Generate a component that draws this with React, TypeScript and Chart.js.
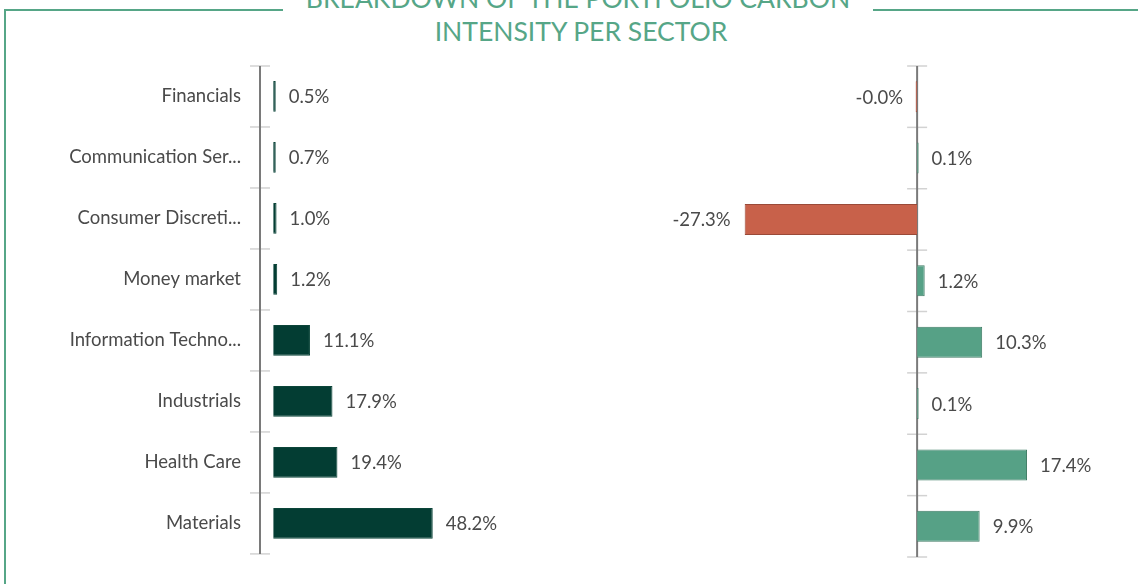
import React, { useEffect, useRef } from "react";
import { Chart, registerables } from "chart.js";

Chart.register(...registerables);

const categories: string[] = [
  "Financials",
  "Communication Ser...",
  "Consumer Discreti...",
  "Money market",
  "Information Techno...",
  "Industrials",
  "Health Care",
  "Materials",
];
const leftValues: number[] = [0.5, 0.7, 1.0, 1.2, 11.1, 17.9, 19.4, 48.2];
const rightValues: number[] = [-0.02, 0.1, -27.3, 1.2, 10.3, 0.1, 17.4, 9.9];
const titleLines: string[] = ["BREAKDOWN OF THE PORTFOLIO CARBON", "INTENSITY PER SECTOR"];

const DARK = "#033d33";
const DARK_BORDER = "#0c4539";
const POS = "#56a186";
const POS_BORDER = "#3e7b64";
const NEG = "#c8614a";
const NEG_BORDER = "#9a4a38";
const TITLE_COLOR = "#56a687";
const TEXT = "#4a4a4a";
const FONT_SIZE = 18.5;

const fmt = (v: number) => v.toFixed(1) + "%";

const axisX = (chart: any, opts: any) =>
  opts.mode === "zero" ? chart.scales.x.getPixelForValue(0) : chart.chartArea.left;

const decorPlugin = {
  id: "decor",
  beforeDatasetsDraw(chart: any, _args: any, opts: any) {
    const ctx = chart.ctx;
    const ys = chart.scales.y;
    const ax = axisX(chart, opts);
    const top = ys.top;
    const bottom = ys.bottom;
    const n = chart.data.labels.length;
    ctx.save();
    ctx.strokeStyle = "#d2d2d2";
    ctx.lineWidth = 1.5;
    for (let i = 0; i <= n; i++) {
      const y = top + (i * (bottom - top)) / n;
      ctx.beginPath();
      ctx.moveTo(ax - 10, y);
      ctx.lineTo(ax + 10, y);
      ctx.stroke();
    }
    ctx.strokeStyle = "#7a7a7a";
    ctx.lineWidth = 2;
    ctx.beginPath();
    ctx.moveTo(ax, top);
    ctx.lineTo(ax, bottom);
    ctx.stroke();
    ctx.restore();
  },
  afterDatasetsDraw(chart: any, _args: any, opts: any) {
    const ctx = chart.ctx;
    const ax = axisX(chart, opts);
    ctx.save();
    ctx.font = `${FONT_SIZE}px Lato`;
    ctx.fillStyle = TEXT;
    ctx.textBaseline = "middle";
    const meta = chart.getDatasetMeta(0);
    const data = chart.data.datasets[0].data as number[];
    meta.data.forEach((el: any, i: number) => {
      const v = data[i];
      if (v < 0) {
        const endX = Math.abs(v) < 0.5 ? ax : el.x;
        ctx.textAlign = "right";
        ctx.fillText(fmt(v), endX - 14, el.y + 1);
      } else {
        ctx.textAlign = "left";
        ctx.fillText(fmt(v), el.x + 13, el.y + 1);
      }
    });
    ctx.restore();
  },
};

export default function App() {
  const leftRef = useRef<HTMLCanvasElement>(null);
  const rightRef = useRef<HTMLCanvasElement>(null);

  useEffect(() => {
    let charts: Chart[] = [];
    let cancelled = false;
    const build = () => {
      if (cancelled || !leftRef.current || !rightRef.current) return;
      const left = new Chart(leftRef.current, {
        type: "bar",
        data: {
          labels: categories,
          datasets: [
            {
              data: leftValues,
              backgroundColor: DARK,
              borderColor: DARK_BORDER,
              borderWidth: 1,
              barPercentage: 0.504,
              categoryPercentage: 1,
              minBarLength: 2.5,
            },
          ],
        },
        options: {
          indexAxis: "y",
          responsive: false,
          animation: false,
          devicePixelRatio: 1,
          layout: { padding: { top: 66, bottom: 27, right: 10, left: 0 } },
          plugins: { legend: { display: false }, tooltip: { enabled: false }, decor: { mode: "left" } } as any,
          scales: {
            x: { display: false, min: -4, max: 92.7 },
            y: {
              grid: { display: false, drawTicks: false },
              border: { display: false },
              ticks: { color: TEXT, font: { family: "Lato", size: FONT_SIZE }, padding: 19 },
              afterFit: (axis: any) => {
                axis.width = 260;
              },
            },
          },
        },
        plugins: [decorPlugin],
      } as any);
      const right = new Chart(rightRef.current, {
        type: "bar",
        data: {
          labels: categories,
          datasets: [
            {
              data: rightValues,
              backgroundColor: rightValues.map((v) => (v < 0 ? NEG : POS)),
              borderColor: rightValues.map((v) => (v < 0 ? NEG_BORDER : POS_BORDER)),
              borderWidth: 1,
              barPercentage: 0.504,
              categoryPercentage: 1,
              minBarLength: 1.5,
            },
          ],
        },
        options: {
          indexAxis: "y",
          responsive: false,
          animation: false,
          devicePixelRatio: 1,
          layout: { padding: { top: 66, bottom: 27, right: 8, left: 10 } },
          plugins: { legend: { display: false }, tooltip: { enabled: false }, decor: { mode: "zero" } } as any,
          scales: {
            x: { display: false, min: -50.2, max: 33.7 },
            y: { display: false },
          },
        },
        plugins: [decorPlugin],
      } as any);
      charts = [left, right];
    };
    const fontsApi = (document as any).fonts;
    if (fontsApi && fontsApi.load) {
      fontsApi.load(`${FONT_SIZE}px Lato`).then(build, build);
    } else {
      build();
    }
    return () => {
      cancelled = true;
      charts.forEach((c) => c.destroy());
      charts = [];
    };
  }, []);

  return (
    <div
      style={{
        position: "fixed",
        left: 0,
        top: 0,
        width: 1138,
        height: 584,
        overflow: "hidden",
        background: "#fff",
        fontFamily: "Lato, sans-serif",
      }}
    >
      <div
        style={{
          position: "absolute",
          left: 4,
          top: 9,
          width: 1200,
          height: 700,
          border: `2px solid ${TITLE_COLOR}`,
          boxSizing: "border-box",
        }}
      />
      <div
        style={{
          position: "absolute",
          left: 283,
          top: -18,
          width: 590,
          height: 66,
          background: "#fff",
          color: TITLE_COLOR,
          fontSize: 26.5,
          lineHeight: "33px",
          textAlign: "center",
          whiteSpace: "nowrap",
        }}
      >
        {titleLines.map((t, i) => (
          <div key={i} style={{ paddingLeft: i === 1 ? 6 : 0 }}>
            {t}
          </div>
        ))}
      </div>
      <canvas ref={leftRef} width={590} height={584} style={{ position: "absolute", left: 0, top: 0 }} />
      <canvas ref={rightRef} width={548} height={584} style={{ position: "absolute", left: 590, top: 0 }} />
    </div>
  );
}
